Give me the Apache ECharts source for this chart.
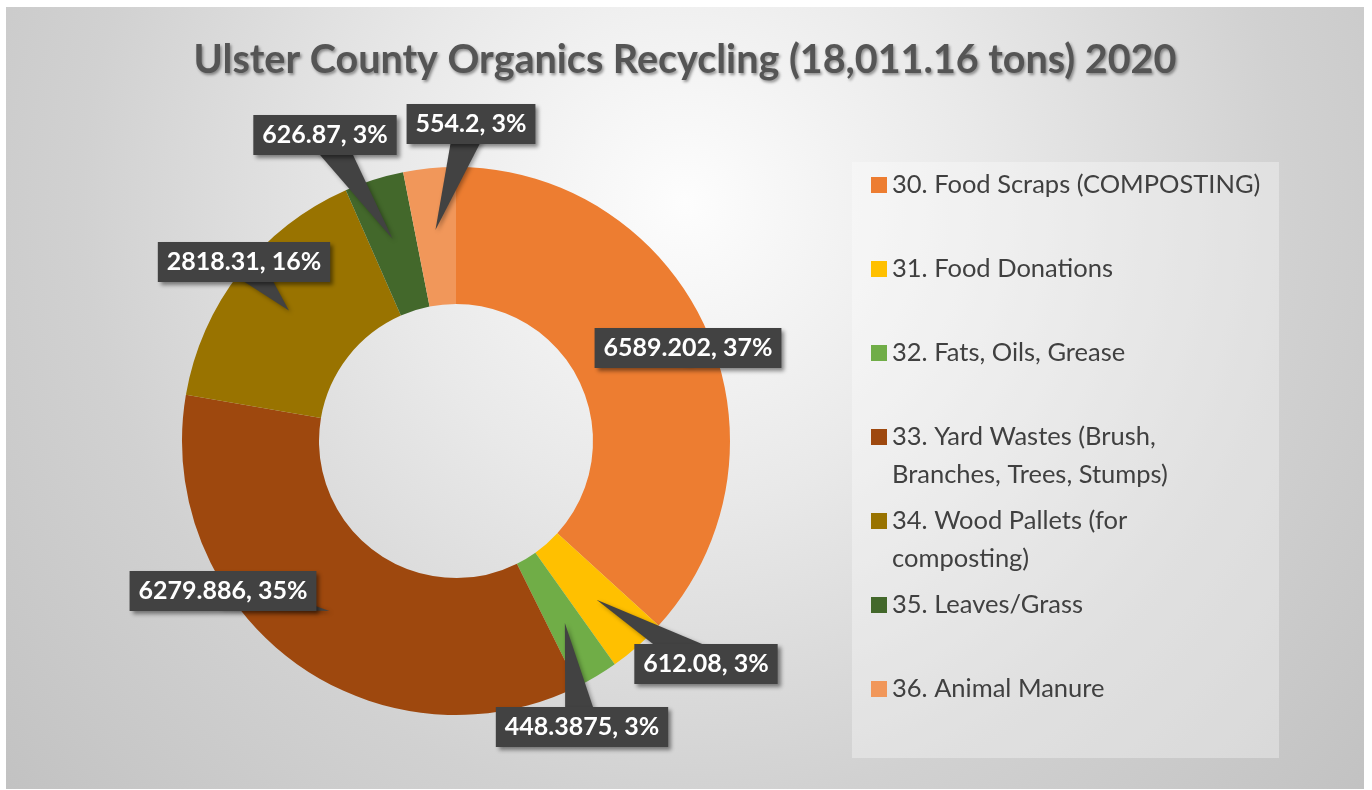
<!DOCTYPE html>
<html>
<head>
<meta charset="utf-8">
<script src="https://cdn.jsdelivr.net/npm/echarts@6/dist/echarts.min.js"></script>
<style>
  body { margin: 0; background: #fff; }
  #main { position: absolute; left: 6px; top: 7px; width: 1358px; height: 782px; }
</style>
</head>
<body>
<div id="main"></div>
<script>
// legend names, broken the way the original legend wraps them
const categories = [
  "30. Food Scraps (COMPOSTING)",
  "31. Food Donations",
  "32. Fats, Oils, Grease",
  "33. Yard Wastes (Brush,\nBranches, Trees, Stumps)",
  "34. Wood Pallets (for\ncomposting)",
  "35. Leaves/Grass",
  "36. Animal Manure"
];
const tons = [6589.202, 612.08, 448.3875, 6279.886, 2818.31, 626.87, 554.2];
const colors = ["#ED7D31", "#FFC000", "#70AD47", "#9E480E", "#997300", "#43682B", "#F1975A"];

// layout (px inside the chart div)
const center = [450, 434];
const radius = [137, 274];
const tipR = 212;
const pointerW = 17;
const labelPos = [[682, 341], [700, 657], [576, 720], [217, 584], [238, 255], [319, 128], [465, 117]];
const legendLeft = 865, legendY0 = 178, legendStep = 84, legendLH = 38;

const total = tons.reduce(function(s, v) { return s + v; }, 0);
// middle angle of each slice, clockwise from 12 o'clock
let acc = 0;
const midAngles = tons.map(function(v) {
  const m = ((acc + v / 2) / total) * Math.PI * 2;
  acc += v;
  return m;
});

let chart = echarts.init(document.getElementById("main"));

const legends = categories.map(function(name, i) {
  const n = name.split("\n").length;
  return {
    data: [name],
    left: legendLeft,
    top: legendY0 + i * legendStep - ((2 * n - 1) * legendLH) / 2,
    orient: "vertical",
    padding: 0,
    icon: "rect",
    itemWidth: 16,
    itemHeight: 16,
    selectedMode: false,
    formatter: function(v) {
      return (n > 1 ? "\n" : "") + v;
    },
    textStyle: {
      fontFamily: "Lato",
      fontSize: 25.5,
      color: "#404040",
      lineHeight: legendLH
    }
  };
});

// callout box + pointer for each slice
function renderCallout(params, api) {
  const i = params.dataIndex;
  const v = api.value(0);
  const a = midAngles[i];
  const pos = labelPos[i];
  const tip = [center[0] + tipR * Math.sin(a), center[1] - tipR * Math.cos(a)];
  const dx = pos[0] - tip[0],
    dy = pos[1] - tip[1],
    d = Math.hypot(dx, dy);
  const nx = -dy / d,
    ny = dx / d;
  return {
    type: "group",
    children: [
      {
        type: "polygon",
        shape: {
          points: [
            tip,
            [pos[0] + nx * pointerW, pos[1] + ny * pointerW],
            [pos[0] - nx * pointerW, pos[1] - ny * pointerW]
          ]
        },
        style: {
          fill: "#424242",
          shadowColor: "rgba(0,0,0,0.35)",
          shadowBlur: 4,
          shadowOffsetX: 2,
          shadowOffsetY: 2
        }
      },
      {
        type: "text",
        x: pos[0],
        y: pos[1],
        style: {
          text: v + ", " + Math.round((v / total) * 100) + "%",
          align: "center",
          verticalAlign: "middle",
          fill: "#fff",
          fontFamily: "Lato",
          fontWeight: "bold",
          fontSize: 25,
          backgroundColor: "#424242",
          padding: [8, 9, 7, 9],
          shadowColor: "rgba(0,0,0,0.45)",
          shadowBlur: 4,
          shadowOffsetX: 3,
          shadowOffsetY: 3
        }
      }
    ]
  };
}

chart.setOption({
  backgroundColor: new echarts.graphic.RadialGradient(0.5, 0.25, 1.15, [
    { offset: 0, color: "#fdfdfd" },
    { offset: 0.33, color: "#e9e9e9" },
    { offset: 0.67, color: "#d1d1d1" },
    { offset: 1, color: "#c2c2c2" }
  ]),
  color: colors,
  title: {
    text: "Ulster County Organics Recycling (18,011.16 tons) 2020",
    left: "center",
    top: 28,
    textStyle: {
      fontFamily: "Lato",
      fontWeight: "bold",
      fontSize: 39.5,
      color: "#555555",
      textShadowColor: "rgba(0,0,0,0.4)",
      textShadowBlur: 3,
      textShadowOffsetX: 1.5,
      textShadowOffsetY: 2
    }
  },
  graphic: [
    {
      type: "rect",
      z: -1,
      shape: { x: 846, y: 155, width: 427, height: 596 },
      style: { fill: "rgba(255,255,255,0.33)" }
    }
  ],
  legend: legends,
  series: [
    {
      type: "pie",
      center: center,
      radius: radius,
      startAngle: 90,
      clockwise: true,
      data: categories.map(function(name, i) {
        return { name: name, value: tons[i] };
      }),
      label: { show: false },
      labelLine: { show: false },
      emphasis: { disabled: true }
    },
    {
      type: "custom",
      coordinateSystem: "none",
      z: 3,
      silent: true,
      data: tons,
      renderItem: renderCallout
    }
  ]
});
</script>
</body>
</html>
